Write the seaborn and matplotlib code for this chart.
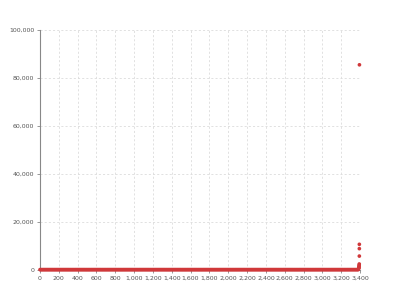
import matplotlib
matplotlib.use("Agg")
import matplotlib.pyplot as plt
import matplotlib.ticker as mticker
import seaborn as sns
import pandas as pd
import numpy as np

sns.set_theme(style="white")
plt.rcParams['font.family'] = ['DejaVu Sans']

# Baseline points: index 0..3380 step 10, all near zero
baseline_x = list(range(0, 3381, 10))
baseline_value = 150
# Tail points near the end of the series
tail_x = [3382, 3384, 3386, 3388, 3389, 3390, 3391, 3392, 3393, 3393, 3393, 3394]
tail_y = [300, 500, 700, 900, 1200, 1600, 2000, 2500, 5800, 8900, 10700, 85500]

xs = baseline_x + tail_x
ys = [baseline_value] * len(baseline_x) + tail_y
df = pd.DataFrame({"x": xs, "y": ys})

fig = plt.figure(figsize=(4, 3), dpi=100)
ax = fig.add_axes([0.1, 0.1, 0.8, 0.8])

sns.scatterplot(data=df, x="x", y="y", ax=ax, color="#d0383a", s=7,
                edgecolor="none", linewidth=0, marker="o", zorder=3,
                clip_on=False)

ax.set_xlim(0, 3400)
ax.set_ylim(0, 100000)
ax.xaxis.set_major_locator(mticker.MultipleLocator(200))
ax.yaxis.set_major_locator(mticker.MultipleLocator(20000))
fmt = mticker.FuncFormatter(lambda v, p: f"{int(v):,}")
ax.xaxis.set_major_formatter(fmt)
ax.yaxis.set_major_formatter(fmt)
ax.set_xlabel("")
ax.set_ylabel("")

ax.grid(True, linestyle=(0, (2.5, 2.5)), color="#dcdcdc", linewidth=0.6)
for s in ["top", "right"]:
    ax.spines[s].set_visible(False)
for s in ["left", "bottom"]:
    ax.spines[s].set_color("#888888")
    ax.spines[s].set_linewidth(0.8)
ax.tick_params(axis="both", labelsize=4.5, colors="#888888", length=2.5,
               width=0.6, pad=1.5, direction="out", left=True, bottom=True)
for lbl in ax.get_xticklabels() + ax.get_yticklabels():
    lbl.set_color("#555555")

fig.savefig("out.png", dpi=100)
